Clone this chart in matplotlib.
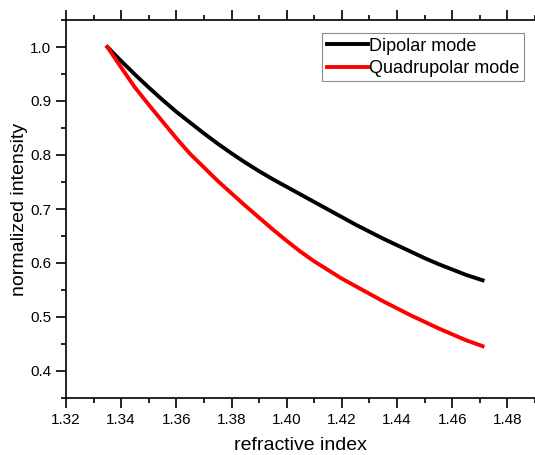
import numpy as np
import matplotlib.pyplot as plt
from matplotlib.ticker import MultipleLocator

plt.rcParams['font.family'] = ['Liberation Sans', 'DejaVu Sans']

refractive_index = [1.335, 1.340, 1.345, 1.350, 1.355, 1.360, 1.365, 1.370,
                    1.375, 1.380, 1.385, 1.390, 1.395, 1.400, 1.405, 1.410,
                    1.415, 1.420, 1.425, 1.430, 1.435, 1.440, 1.445, 1.450,
                    1.455, 1.460, 1.465, 1.471]
dipolar = [1.000, 0.974, 0.949, 0.925, 0.902, 0.880, 0.860, 0.840,
           0.821, 0.803, 0.786, 0.770, 0.755, 0.741, 0.727, 0.713,
           0.699, 0.685, 0.671, 0.658, 0.645, 0.633, 0.621, 0.609,
           0.598, 0.588, 0.578, 0.568]
quadrupolar = [1.000, 0.962, 0.925, 0.893, 0.862, 0.831, 0.802, 0.777,
               0.752, 0.729, 0.706, 0.684, 0.662, 0.641, 0.621, 0.603,
               0.587, 0.571, 0.557, 0.543, 0.529, 0.516, 0.503, 0.491,
               0.479, 0.468, 0.457, 0.446]

fig = plt.figure(figsize=(5.35, 4.55), dpi=100)
ax = fig.add_axes([66 / 535, (455 - 398) / 455, 1 - 66 / 535, (398 - 20) / 455])

ax.plot(refractive_index, dipolar, color='black', lw=2.8, label='Dipolar mode')
ax.plot(refractive_index, quadrupolar, color='red', lw=2.8, label='Quadrupolar mode')

ax.set_xlim(1.32, 1.49)
ax.set_ylim(0.35, 1.05)
ax.xaxis.set_major_locator(MultipleLocator(0.02))
ax.xaxis.set_minor_locator(MultipleLocator(0.01))
ax.yaxis.set_major_locator(MultipleLocator(0.1))
ax.yaxis.set_minor_locator(MultipleLocator(0.05))
ax.xaxis.set_major_formatter(plt.FuncFormatter(lambda v, p: f"{v:.2f}"))
ax.yaxis.set_major_formatter(plt.FuncFormatter(lambda v, p: f"{v:.1f}"))

ax.spines['right'].set_visible(False)
for s in ['left', 'bottom', 'top']:
    ax.spines[s].set_linewidth(1.2)
ax.tick_params(which='both', direction='out', top=True, right=False,
               labeltop=False, width=1.2, labelsize=11)
ax.tick_params(which='major', length=7)
ax.tick_params(which='minor', length=3.5)

ax.set_xlabel('refractive index', fontsize=14)
ax.set_ylabel('normalized intensity', fontsize=14)
ax.xaxis.set_label_coords(0.5, -0.103)
ax.yaxis.set_label_coords(-0.081, 0.5)

leg = ax.legend(loc='upper left', bbox_to_anchor=(257 / 470, 1 - 13 / 378),
                fontsize=13, frameon=True, fancybox=False, borderaxespad=0,
                handlelength=2.3, handletextpad=0.05, borderpad=0.25,
                labelspacing=0.3)
leg.get_frame().set_edgecolor('#707070')
leg.get_frame().set_linewidth(0.8)

fig.savefig('out.png', dpi=100)
